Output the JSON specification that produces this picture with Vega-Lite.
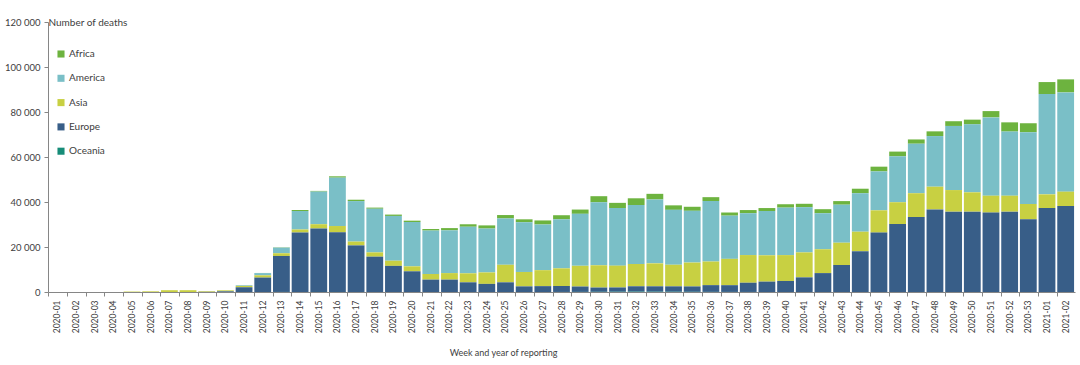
{
  "$schema": "https://vega.github.io/schema/vega-lite/v6.json",
  "autosize": "none",
  "width": 1027,
  "height": 270,
  "padding": {"left": 48, "top": 22, "right": 5, "bottom": 73},
  "config": {"view": {"stroke": null}, "font": "Lato"},
  "data": {"values": [
    {"week": "2020-01", "Europe": 0, "Asia": 0, "America": 0, "Africa": 0, "Oceania": 0},
    {"week": "2020-02", "Europe": 0, "Asia": 0, "America": 0, "Africa": 0, "Oceania": 0},
    {"week": "2020-03", "Europe": 0, "Asia": 0, "America": 0, "Africa": 0, "Oceania": 0},
    {"week": "2020-04", "Europe": 0, "Asia": 0, "America": 0, "Africa": 0, "Oceania": 0},
    {"week": "2020-05", "Europe": 0, "Asia": 200, "America": 0, "Africa": 0, "Oceania": 0},
    {"week": "2020-06", "Europe": 0, "Asia": 300, "America": 0, "Africa": 0, "Oceania": 0},
    {"week": "2020-07", "Europe": 0, "Asia": 800, "America": 0, "Africa": 0, "Oceania": 0},
    {"week": "2020-08", "Europe": 0, "Asia": 800, "America": 0, "Africa": 0, "Oceania": 0},
    {"week": "2020-09", "Europe": 50, "Asia": 300, "America": 0, "Africa": 0, "Oceania": 0},
    {"week": "2020-10", "Europe": 300, "Asia": 450, "America": 20, "Africa": 0, "Oceania": 0},
    {"week": "2020-11", "Europe": 2100, "Asia": 600, "America": 300, "Africa": 20, "Oceania": 5},
    {"week": "2020-12", "Europe": 6400, "Asia": 1000, "America": 1000, "Africa": 50, "Oceania": 10},
    {"week": "2020-13", "Europe": 16000, "Asia": 1200, "America": 2500, "Africa": 150, "Oceania": 20},
    {"week": "2020-14", "Europe": 26400, "Asia": 1400, "America": 8200, "Africa": 400, "Oceania": 30},
    {"week": "2020-15", "Europe": 28200, "Asia": 1900, "America": 14500, "Africa": 300, "Oceania": 30},
    {"week": "2020-16", "Europe": 26500, "Asia": 2800, "America": 21500, "Africa": 600, "Oceania": 20},
    {"week": "2020-17", "Europe": 20700, "Asia": 1700, "America": 18000, "Africa": 600, "Oceania": 10},
    {"week": "2020-18", "Europe": 15700, "Asia": 1900, "America": 19400, "Africa": 500, "Oceania": 5},
    {"week": "2020-19", "Europe": 11600, "Asia": 2300, "America": 19900, "Africa": 600, "Oceania": 5},
    {"week": "2020-20", "Europe": 9200, "Asia": 2200, "America": 19700, "Africa": 600, "Oceania": 2},
    {"week": "2020-21", "Europe": 5500, "Asia": 2500, "America": 19300, "Africa": 700, "Oceania": 2},
    {"week": "2020-22", "Europe": 5500, "Asia": 2900, "America": 19000, "Africa": 1000, "Oceania": 2},
    {"week": "2020-23", "Europe": 4300, "Asia": 4000, "America": 20700, "Africa": 1100, "Oceania": 2},
    {"week": "2020-24", "Europe": 3600, "Asia": 5100, "America": 19500, "Africa": 1400, "Oceania": 2},
    {"week": "2020-25", "Europe": 4300, "Asia": 7800, "America": 20600, "Africa": 1500, "Oceania": 2},
    {"week": "2020-26", "Europe": 2500, "Asia": 6400, "America": 22100, "Africa": 1300, "Oceania": 2},
    {"week": "2020-27", "Europe": 2600, "Asia": 7100, "America": 20300, "Africa": 1800, "Oceania": 5},
    {"week": "2020-28", "Europe": 2650, "Asia": 7850, "America": 21800, "Africa": 1800, "Oceania": 20},
    {"week": "2020-29", "Europe": 2400, "Asia": 9200, "America": 23100, "Africa": 1900, "Oceania": 40},
    {"week": "2020-30", "Europe": 1900, "Asia": 9900, "America": 28000, "Africa": 2700, "Oceania": 80},
    {"week": "2020-31", "Europe": 1900, "Asia": 9700, "America": 25600, "Africa": 2300, "Oceania": 120},
    {"week": "2020-32", "Europe": 2400, "Asia": 9900, "America": 26200, "Africa": 3000, "Oceania": 150},
    {"week": "2020-33", "Europe": 2400, "Asia": 10200, "America": 28400, "Africa": 2500, "Oceania": 130},
    {"week": "2020-34", "Europe": 2400, "Asia": 9600, "America": 24400, "Africa": 2000, "Oceania": 110},
    {"week": "2020-35", "Europe": 2400, "Asia": 10600, "America": 23000, "Africa": 1800, "Oceania": 80},
    {"week": "2020-36", "Europe": 3000, "Asia": 10500, "America": 26900, "Africa": 1700, "Oceania": 50},
    {"week": "2020-37", "Europe": 3000, "Asia": 11700, "America": 19200, "Africa": 1400, "Oceania": 30},
    {"week": "2020-38", "Europe": 4100, "Asia": 12300, "America": 18600, "Africa": 1400, "Oceania": 20},
    {"week": "2020-39", "Europe": 4600, "Asia": 11700, "America": 19700, "Africa": 1300, "Oceania": 10},
    {"week": "2020-40", "Europe": 4900, "Asia": 11500, "America": 21100, "Africa": 1500, "Oceania": 5},
    {"week": "2020-41", "Europe": 6500, "Asia": 11100, "America": 20100, "Africa": 1500, "Oceania": 5},
    {"week": "2020-42", "Europe": 8400, "Asia": 10600, "America": 16000, "Africa": 1800, "Oceania": 2},
    {"week": "2020-43", "Europe": 12000, "Asia": 9900, "America": 16900, "Africa": 1600, "Oceania": 2},
    {"week": "2020-44", "Europe": 18100, "Asia": 8700, "America": 17100, "Africa": 2000, "Oceania": 2},
    {"week": "2020-45", "Europe": 26400, "Asia": 9900, "America": 17300, "Africa": 2100, "Oceania": 2},
    {"week": "2020-46", "Europe": 30200, "Asia": 9700, "America": 20400, "Africa": 2100, "Oceania": 2},
    {"week": "2020-47", "Europe": 33300, "Asia": 10600, "America": 22000, "Africa": 1900, "Oceania": 2},
    {"week": "2020-48", "Europe": 36700, "Asia": 10100, "America": 22500, "Africa": 2100, "Oceania": 2},
    {"week": "2020-49", "Europe": 35700, "Asia": 9600, "America": 28500, "Africa": 2100, "Oceania": 2},
    {"week": "2020-50", "Europe": 35700, "Asia": 8600, "America": 30200, "Africa": 2100, "Oceania": 2},
    {"week": "2020-51", "Europe": 35300, "Asia": 7500, "America": 34800, "Africa": 2800, "Oceania": 2},
    {"week": "2020-52", "Europe": 35700, "Asia": 7100, "America": 28500, "Africa": 4100, "Oceania": 2},
    {"week": "2020-53", "Europe": 32300, "Asia": 6800, "America": 31900, "Africa": 4000, "Oceania": 2},
    {"week": "2021-01", "Europe": 37300, "Asia": 6100, "America": 44600, "Africa": 5300, "Oceania": 2},
    {"week": "2021-02", "Europe": 38200, "Asia": 6400, "America": 44100, "Africa": 5800, "Oceania": 2}
  ]},
  "transform": [{"fold": ["Africa", "America", "Asia", "Europe", "Oceania"], "as": ["region", "deaths"]}],
  "mark": {"type": "bar"},
  "encoding": {
    "x": {
      "field": "week", "type": "ordinal",
      "scale": {"paddingInner": 0.1, "paddingOuter": 0.05},
      "axis": {
        "title": "Week and year of reporting",
        "titleFontSize": 9, "titleFontWeight": "normal", "titleColor": "#404040",
        "titleX": 455, "titleY": 56,
        "labelAngle": -90, "labelFontSize": 8.5, "labelColor": "#404040", "labelPadding": 4,
        "bandPosition": 0,
        "domainColor": "#868686", "tickColor": "#868686", "tickSize": 4
      }
    },
    "y": {
      "field": "deaths", "type": "quantitative", "stack": "zero",
      "scale": {"domain": [0, 120000]},
      "axis": {
        "values": [0, 20000, 40000, 60000, 80000, 100000, 120000],
        "labelExpr": "replace(format(datum.value, ','), ',', ' ')",
        "grid": false, "labelFontSize": 9.5, "labelColor": "#404040", "labelPadding": 4,
        "domainColor": "#868686", "tickColor": "#868686", "tickSize": 4,
        "title": "Number of deaths", "titleAngle": 0, "titleX": 0, "titleY": 0,
        "titleAlign": "left", "titleBaseline": "middle", "titleFontSize": 10,
        "titleFontWeight": "normal", "titleColor": "#404040"
      }
    },
    "color": {
      "field": "region", "type": "nominal",
      "scale": {"domain": ["Africa", "America", "Asia", "Europe", "Oceania"],
                "range": ["#6db33f", "#7abfc7", "#c8d042", "#385e88", "#168c78"]},
      "legend": {
        "title": null, "orient": "none", "legendX": 8, "legendY": 27,
        "symbolType": "square", "symbolSize": 50, "symbolStrokeWidth": 0,
        "labelFontSize": 10, "labelColor": "#404040", "rowPadding": 14.3, "labelOffset": 3
      }
    },
    "order": {"field": "region", "sort": "descending"}
  }
}
